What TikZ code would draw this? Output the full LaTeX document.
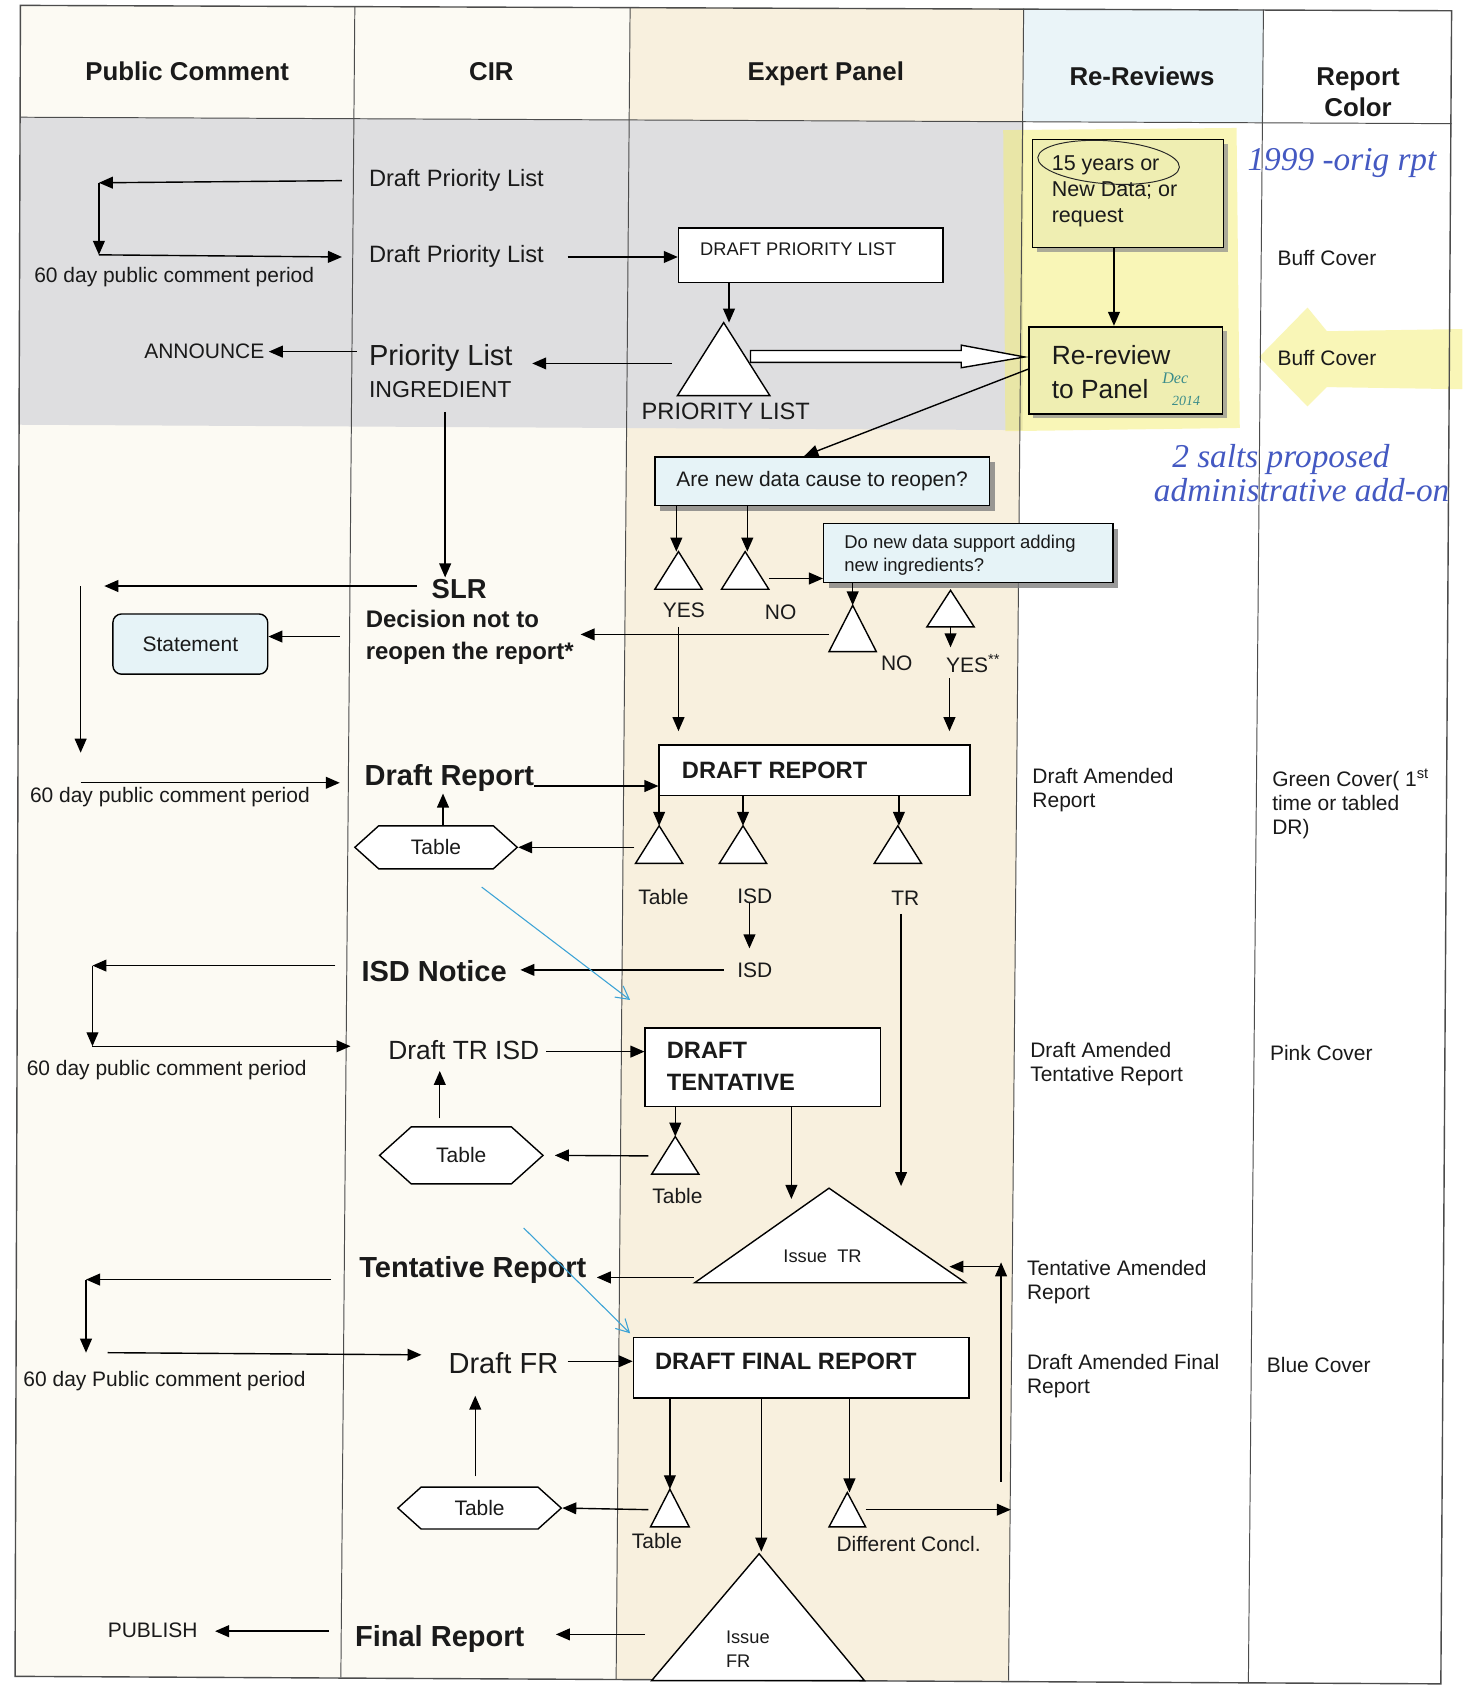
\documentclass[tikz,border=0pt]{standalone}
\usepackage{fontspec}
\setmainfont{Liberation Sans}
\newfontfamily\handfont{Liberation Serif}
\usetikzlibrary{arrows.meta,shapes.symbols,shadows,calc}
\definecolor{grayband}{HTML}{DEDEE0}
\definecolor{cream}{HTML}{F8F0DE}
\definecolor{paper}{HTML}{FCFAF3}
\definecolor{rrhead}{HTML}{EAF4F8}
\definecolor{yelbox}{HTML}{EFEEB2}
\definecolor{bluebox}{HTML}{E6F3F7}
\definecolor{ink}{HTML}{4459C2}
\definecolor{teal}{HTML}{3B8C8A}
\definecolor{hl}{HTML}{F4EE70}
\definecolor{penblue}{HTML}{3CA3D6}
\definecolor{txtc}{HTML}{1A1A1A}
\tikzset{
 every node/.style={inner sep=0pt, text=txtc},
 arr/.style={line width=1.3pt, draw=black, -{Triangle[length=13pt,width=11pt]}},
 gridln/.style={line width=0.9pt, draw=black!70},
 tri/.style={line width=1.3pt, draw=black, fill=white},
 boxw/.style={draw=black, line width=1.3pt, fill=white},
 bbox/.style={draw=black, line width=1.3pt, fill=bluebox, drop shadow={shadow xshift=5pt, shadow yshift=-5pt, fill=black!50, opacity=.8}},
 ybox/.style={draw=black, line width=1.3pt, fill=yelbox, drop shadow={shadow xshift=4pt, shadow yshift=-4pt, fill=black!45, opacity=.7}},
 hexa/.style={draw=black, line width=1.3pt, fill=white, signal, signal to=east and west, signal pointer angle=84},
 fA/.style={font=\fontsize{17}{22}\selectfont},
 fB/.style={font=\fontsize{19.5}{22.5}\selectfont},
 fC/.style={font=\fontsize{22}{26}\selectfont},
 fD/.style={font=\fontsize{24.5}{32}\selectfont},
 fE/.style={font=\fontsize{27}{32}\selectfont},
 bC/.style={font=\bfseries\fontsize{22}{30}\selectfont},
 bE/.style={font=\bfseries\fontsize{27}{32}\selectfont},
 hdr/.style={font=\bfseries\fontsize{24}{29}\selectfont},
 hand/.style={font=\handfont\itshape\fontsize{31}{31}\selectfont, text=ink},
 pen/.style={draw=penblue, line width=1pt, -{Straight Barb[length=12pt,width=13pt]}},
}
\begin{document}
\begin{tikzpicture}[x=1pt,y=-1pt]
\useasboundingbox (0,0) rectangle (1360,1568);
% ---------------- backgrounds ----------------
\fill[white] (0,0) rectangle (1360,1568);
\fill[paper] (19,5) -- (952,8) -- (938,1563) -- (14,1559) -- cycle;
\fill[cream] (586,7) -- (952,8) -- (938,1563) -- (573,1562) -- cycle;
\fill[grayband] (19,109) -- (952,113) -- (951,400) -- (17,395) -- cycle;
\fill[rrhead] (952,8) -- (1175,9) -- (1175,114) -- (952,113) -- cycle;
% highlighter marks
\fill[hl, opacity=.5] (933,121) -- (1150,119) -- (1153,398) -- (935,401) -- cycle;
\fill[hl, opacity=.5] (1360,306) -- (1234,308) -- (1216,286) -- (1171,332) -- (1216,378) -- (1234,360) -- (1360,362) -- cycle;
% ---------------- grid ----------------
\draw[gridln, line width=1.3pt] (19,5) -- (1350,10) -- (1340,1566) -- (14,1559) -- cycle;
\draw[gridln] (19,109) -- (1350,115);
\draw[gridln] (330,6) -- (317,1560);
\draw[gridln] (586,7) -- (573,1562);
\draw[gridln] (952,8) -- (938,1563);
\draw[gridln] (1175,9) -- (1161,1565);
% ---------------- headers ----------------
\node[hdr] (hPC) at (174,66) {Public Comment};
\node[hdr] (hCIR) at (457,67) {CIR};
\node[hdr] (hEP) at (768,69) {Expert Panel};
\node[hdr] (hRR) at (1062,71) {Re-Reviews};
\node[hdr, align=center] (hRC) at (1263,86) {Report\\Color};
% ---------------- priority list band ----------------
\node[fC, anchor=west] (dpl1) at (343,168) {Draft Priority List};
\node[fC, anchor=west] (dpl2) at (343,238) {Draft Priority List};
\coordinate (pcA) at (92,170);
\coordinate (pcB) at (92,237);
\draw[arr] ([xshift=-25pt]dpl1.west) -- (pcA);
\draw[arr] (pcA) -- (pcB);
\draw[arr] (pcB) -- ([xshift=-25pt,yshift=-1pt]dpl2.west);
\node[fB] (pc1) at (162,258) {60 day public comment period};
\node[boxw, minimum width=246pt, minimum height=51pt] (dplbox) at (754,237.5) {};
\node[fA, anchor=west] (dplT) at (651,232) {DRAFT PRIORITY LIST};
\draw[arr] ([xshift=22pt,yshift=-1pt]dpl2.east) -- (dplbox.west |- 0,239);
\coordinate (plT) at (673,300);
\draw[arr] (678,263) -- (678,300);
\draw[tri] (plT) -- (630,368) -- (716,368) -- cycle;
\node[fC] (plL) at (675,383) {PRIORITY LIST};
\node[fE, anchor=west] (pl) at (343,333) {Priority List};
\node[font=\fontsize{21.5}{26}\selectfont, anchor=west] (ingr) at (343,362) {INGREDIENT};
\draw[arr] (625,338) -- (495,338);
\node[fB, anchor=east] (ann) at (246,327) {ANNOUNCE};
\draw[arr] (332,327) -- ([xshift=4pt]ann.east);
% hollow arrow to Re-review
\draw[line width=1.3pt, fill=white] (698,326) -- (894,326) -- (894,321) -- (953,332) -- (894,342) -- (894,337) -- (698,337) -- cycle;
% ---------------- re-reviews ----------------
\node[ybox, minimum width=178pt, minimum height=100pt] (yrs) at (1049,180) {};
\node[fB, anchor=west, align=left, font=\fontsize{20}{24.5}\selectfont] (yrsT) at (978,178) {15 years or\\New Data; or\\request};
\draw[black!85, line width=0.9pt, rotate around={-4:(1031,151)}] (1031,151) ellipse [x radius=66pt, y radius=20pt];
\node[ybox, minimum width=180pt, minimum height=81pt] (rev) at (1047,344.5) {};
\node[anchor=west, align=left, font=\fontsize{24.5}{32}\selectfont] (revT) at (978,346) {Re-review\\to Panel};
\draw[arr] (1036,230) -- (1036,303);
\node[font=\handfont\itshape\fontsize{15}{15}\selectfont, text=teal] (dec) at (1093,352) {Dec};
\node[font=\handfont\itshape\fontsize{13}{13}\selectfont, text=teal] (yr14) at (1103,373) {2014};
\node[fB, anchor=west] (buff1) at (1188,240) {Buff Cover};
\node[fB, anchor=west] (buff2) at (1188,333) {Buff Cover};
\node[hand, anchor=west] (h1) at (1160,152) {1999 -orig rpt};
\node[hand, anchor=west] (h2) at (1090,427) {2 salts proposed};
\node[hand, anchor=west] (h3) at (1073,456) {administrative add-on};
\draw[arr] (957,343) -- (748,424);
% ---------------- decision boxes ----------------
\node[bbox, minimum width=311pt, minimum height=45pt, fB] (q1) at (764.5,447.5) {Are new data cause to reopen?};
\node[bbox, minimum width=269pt, minimum height=55pt] (q2) at (900.5,514.5) {};
\begin{scope}
\clip (767,488) rectangle (1034,535);
\node[anchor=west, align=left, font=\fontsize{17.2}{21}\selectfont] (q2T) at (785,516.5) {Do new data support adding\\new ingredients?};
\end{scope}
\coordinate (tYes) at (631,513);
\coordinate (tNo) at (693,513);
\draw[arr] (629,470) -- (629,513);
\draw[arr] (695,470) -- (695,513);
\draw[tri] (tYes) -- ++(-22,35) -- ++(44,0) -- cycle;
\draw[tri] (tNo) -- ++(-22,35) -- ++(44,0) -- cycle;
\node[fB] (lYes) at (636,568) {YES};
\node[fB] (lNo) at (726,569) {NO};
\draw[arr] (715,538) -- (q2.west |- 0,538);
\coordinate (tNo2) at (793,563);
\coordinate (tYes2) at (884,549);
\draw[arr] (793,542) -- (tNo2);
\draw[tri] (tNo2) -- ++(-22,43) -- ++(44,0) -- cycle;
\draw[tri] (tYes2) -- ++(-22,34) -- ++(44,0) -- cycle;
\draw[arr] (884,583) -- (884,602);
\node[fB] (lNo2) at (834,617) {NO};
\node[fB] (lYes2) at (905,617) {YES\textsuperscript{**}};
\draw[arr] (883,631) -- (883,680);
\draw[arr] (631,583) -- (631,680);
\draw[arr] (771,590) -- (540,590);
% ---------------- SLR ----------------
\draw[arr] (414,383) -- (414,537);
\node[font=\bfseries\fontsize{25.5}{30}\selectfont] (slr) at (427,548) {SLR};
\node[anchor=west, align=left, font=\bfseries\fontsize{22.3}{30}\selectfont] (dec2) at (340,593) {Decision not to\\reopen the report*};
\draw[arr] (388,545) -- (97,545);
\coordinate (pcC) at (75,545);
\draw[arr] (pcC) -- (75,700);
\node[draw=black, line width=1.3pt, fill=bluebox, rounded corners=8pt, minimum width=144pt, minimum height=56pt, fB] (stmt) at (177,599) {Statement};
\draw[arr] (316,592) -- (stmt.east |- 0,592);
% ---------------- draft report ----------------
\node[bE, anchor=west] (dr) at (339,724) {Draft Report};
\draw[arr] (75,728) -- (316,728);
\node[fB] (pc2) at (158,741) {60 day public comment period};
\node[boxw, minimum width=289pt, minimum height=47pt] (drbox) at (757.5,716.5) {};
\node[bC, anchor=west] (drT) at (634,716) {DRAFT REPORT};
\draw[arr] (497,731) -- (drbox.west |- 0,731);
\coordinate (tT1) at (613,768);
\coordinate (tI1) at (691,768);
\coordinate (tR1) at (835,768);
\draw[arr] (613,740) -- (tT1);
\draw[arr] (691,740) -- (tI1);
\draw[arr] (836,740) -- (836,768);
\foreach \c in {tT1,tI1,tR1} \draw[tri] (\c) -- ++(-22,35) -- ++(44,0) -- cycle;
\node[fB] (lT1) at (617,834) {Table};
\node[fB] (lI1) at (702,834) {ISD};
\node[fB] (lR1) at (842,835) {TR};
\node[hexa, minimum width=151pt, minimum height=40pt, fB] (hex1) at (405.5,788) {Table};
\draw[arr] (590,788) -- (hex1.east);
\draw[arr] (412,768) -- (412,738);
\draw[arr] (697,840) -- (697,882);
\node[fB] (lI2) at (702,902) {ISD};
\draw[line width=1.3pt] (838,850) -- (838,1090);
\draw[arr] (838,1090) -- (838,1103);
% ---------------- ISD notice / draft tentative ----------------
\node[bE, anchor=west] (isdn) at (336,903) {ISD Notice};
\draw[arr] (673,902) -- (484,902);
\coordinate (pcD) at (86,898);
\coordinate (pcE) at (86,973);
\draw[arr] (312,898) -- (pcD);
\draw[arr] (pcD) -- (pcE);
\draw[arr] (pcE) -- (326,973);
\node[fB] (pc3) at (155,995) {60 day public comment period};
\node[fD, anchor=west] (dtr) at (361,977) {Draft TR ISD};
\node[boxw, minimum width=219pt, minimum height=73pt] (dtbox) at (709.5,992.5) {};
\node[bC, anchor=west, align=left] (dtT) at (620,992) {DRAFT\\TENTATIVE};
\draw[arr] (508,978) -- (dtbox.west |- 0,978);
\coordinate (tT2) at (628,1057);
\draw[arr] (628,1029) -- (tT2);
\draw[tri] (tT2) -- ++(-22,35) -- ++(44,0) -- cycle;
\node[fB] (lT2) at (630,1112) {Table};
\node[hexa, minimum width=152pt, minimum height=53pt, fB] (hex2) at (429,1074.5) {Table};
\draw[arr] (603,1075) -- ([xshift=10pt]hex2.east);
\draw[arr] (409,1040) -- (409,996);
\draw[arr] (736,1029) -- (736,1115);
\coordinate (tIss) at (771,1105);
\draw[tri] (tIss) -- (646,1193) -- (898,1193) -- cycle;
\node[fA] (issTR) at (765,1168) {Issue\ \ TR};
\node[bE, anchor=west] (tent) at (334,1181) {Tentative Report};
\draw[arr] (645,1188) -- (555,1188);
\draw[arr] (931,1378) -- (931,1174);
\draw[arr] (931,1178) -- (883,1178);
% ---------------- final report ----------------
\coordinate (pcF) at (80,1190);
\coordinate (pcG) at (80,1258);
\draw[arr] (308,1190) -- (pcF);
\draw[arr] (pcF) -- (pcG);
\draw[arr] (100,1258) -- (392,1260);
\node[fB] (pc4) at (153,1284) {60 day Public comment period};
\node[fE, anchor=west] (dfr) at (417,1268) {Draft FR};
\node[boxw, minimum width=312pt, minimum height=56pt] (frbox) at (745,1272) {};
\node[bC, anchor=west] (frT) at (609,1266) {DRAFT FINAL REPORT};
\draw[arr] (528,1266) -- (frbox.west |- 0,1266);
\coordinate (tT3) at (623,1385);
\draw[arr] (623,1300) -- (tT3);
\draw[tri] (tT3) -- ++(-18,35) -- ++(36,0) -- cycle;
\node[fB] (lT3) at (611,1433) {Table};
\node[hexa, minimum width=152pt, minimum height=39pt, fB] (hex3) at (446,1402.5) {Table};
\draw[arr] (603,1404) -- (hex3.east);
\draw[arr] (442,1373) -- (442,1298);
\coordinate (tFR) at (706,1445);
\draw[arr] (708,1300) -- (708,1443);
\draw[tri] (tFR) -- (606,1563) -- (804,1563) -- cycle;
\node[fA, anchor=west, align=left] (issFR) at (675,1534) {Issue\\FR};
\coordinate (tDC) at (788,1388);
\draw[arr] (790,1300) -- (790,1388);
\draw[tri] (tDC) -- ++(-17,32) -- ++(34,0) -- cycle;
\node[fB] (lDC) at (845,1436) {Different Concl.};
\draw[arr] (805,1404) -- (940,1404);
\node[bE, anchor=west] (fin) at (330,1524) {Final Report};
\draw[arr] (600,1520) -- (517,1520);
\node[fB] (pub) at (142,1516) {PUBLISH};
\draw[arr] (306,1517) -- (200,1517);
% ---------------- right columns ----------------
\node[fB, anchor=west, align=left] (rr1) at (960,735) {Draft Amended\\Report};
\node[fB, anchor=west, align=left] (rr2) at (958,989.5) {Draft Amended\\Tentative Report};
\node[fB, anchor=west, align=left] (rr3) at (955,1192) {Tentative Amended\\Report};
\node[fB, anchor=west, align=left] (rr4) at (955,1279.5) {Draft Amended Final\\Report};
\node[fB, anchor=west, align=left] (rc1) at (1183,747.5) {Green Cover( 1\textsuperscript{st}\\time or tabled\\DR)};
\node[fB, anchor=west] (rc2) at (1181,979) {Pink Cover};
\node[fB, anchor=west] (rc3) at (1178,1269) {Blue Cover};
% ---------------- pen arrows ----------------
\coordinate (p1a) at (448,825);
\coordinate (p1b) at (586,930);
\coordinate (p2a) at (487,1142);
\coordinate (p2b) at (586,1240);
\draw[pen] (p1a) -- (p1b);
\draw[pen] (p2a) -- (p2b);
\end{tikzpicture}
\end{document}
